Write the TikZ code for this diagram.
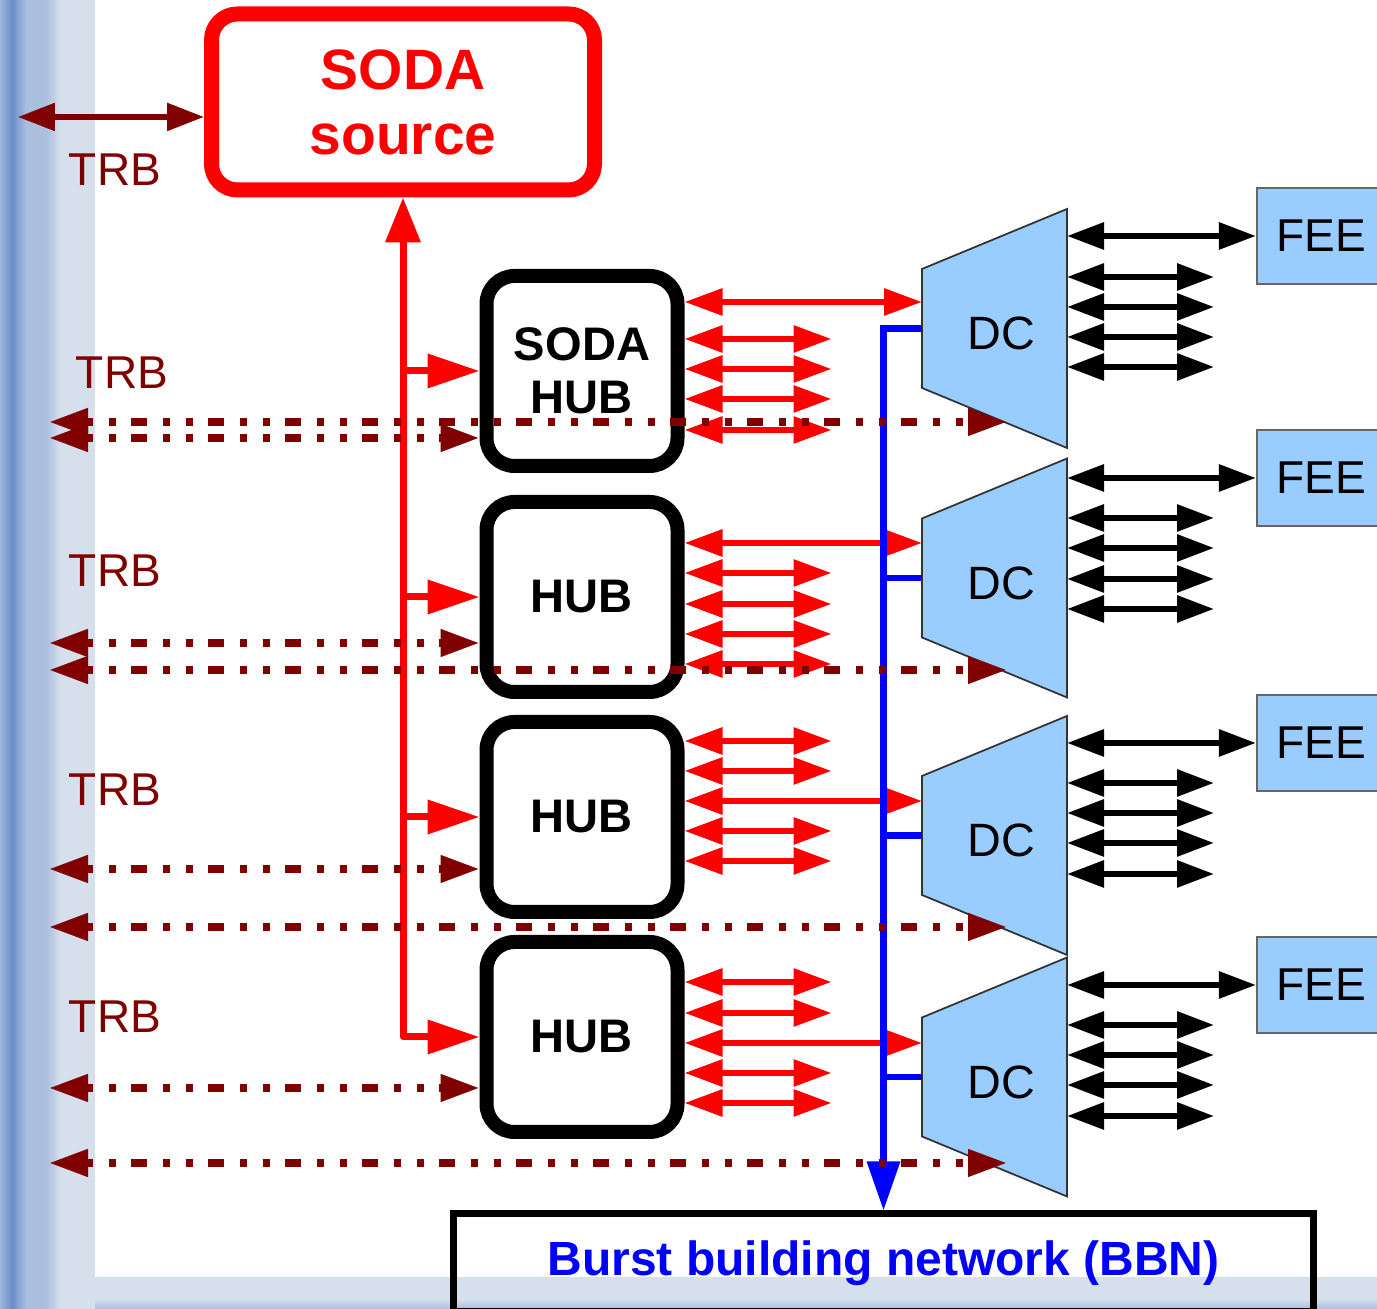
\documentclass[tikz,border=0pt]{standalone}
\usepackage{fontspec}
\setmainfont{Liberation Sans}
\usepackage{tikz}
\usetikzlibrary{positioning, arrows.meta, calc, backgrounds}
\usepackage{xcolor}
\definecolor{sodared}{HTML}{FF0000}
\definecolor{trbred}{HTML}{800000}
\definecolor{dcblue}{HTML}{99CCFF}
\definecolor{bandpale}{HTML}{D6DFEC}
\definecolor{bandmid}{HTML}{AABEDF}
\definecolor{banddark}{HTML}{6A8EC8}
\newcommand{\fsz}[2]{\fontsize{#1}{#2}\selectfont}

\begin{document}
\begin{tikzpicture}[
  hubbox/.style={draw, line width=0.14cm, rounded corners=0.28cm, minimum width=1.91cm, minimum height=1.90cm, align=center, font=\bfseries\fsz{13.4pt}{15.1pt}},
  dcbox/.style={minimum width=1.45cm, minimum height=2.39cm, inner sep=0pt, outer sep=0pt, text height=0.43cm, execute at begin node={\hspace*{0.14cm}}, font=\fsz{13.3pt}{15pt}},
  dcshape/.style={fill=dcblue, draw=black!80, line width=0.5pt},
  feebox/.style={draw=black!60, fill=dcblue, line width=0.6pt, minimum width=1.28cm, minimum height=0.96cm, font=\fsz{13.1pt}{15pt}},
  trblabel/.style={text=trbred, font=\fsz{13.1pt}{15pt}},
  trbarrow/.style={draw=trbred, line width=0.055cm, {Triangle[length=0.37cm,width=0.27cm]}-{Triangle[length=0.37cm,width=0.27cm]}},
  trbline/.style={draw=trbred, line width=0.075cm, dash pattern=on 0.07cm off 0.155cm on 0.07cm off 0.155cm on 0.16cm off 0.16cm, {Triangle[length=0.39cm,width=0.26cm]}-{Triangle[length=0.39cm,width=0.26cm]}},
  sodaline/.style={draw=sodared, line width=0.07cm, line join=round},
  sodapair/.style={draw=sodared, line width=0.06cm, {Triangle[length=0.38cm,width=0.26cm]}-{Triangle[length=0.38cm,width=0.26cm]}},
  feepair/.style={draw=black, line width=0.06cm, {Triangle[length=0.37cm,width=0.26cm]}-{Triangle[length=0.37cm,width=0.26cm]}},
  bus/.style={draw=blue, line width=0.065cm}
]
  \useasboundingbox (0,0) rectangle (13.77,13.09);
  \fill[bandpale] (0,0) rectangle (13.77,0.32);
  \shade[top color=bandpale, bottom color=bandmid] (0,0) rectangle (13.77,0.1);
  \fill[bandpale] (0,0) rectangle (0.95,13.09);
  \shade[left color=bandpale!50!banddark, right color=banddark] (0,0) rectangle (0.12,13.09);
  \shade[left color=banddark, right color=bandmid] (0.12,0) rectangle (0.26,13.09);
  \fill[bandmid] (0.26,0) rectangle (0.46,13.09);
  \shade[left color=bandmid, right color=bandpale] (0.46,0) rectangle (0.6,13.09);

  \node[draw=sodared, line width=0.15cm, rounded corners=0.26cm, minimum width=3.83cm, minimum height=1.76cm, align=center, text=sodared, font=\bfseries\fsz{16.2pt}{18.5pt}] (src) at (4.03,12.07) {SODA\\source};
  \node[hubbox] (hub1) at (5.82,9.38) {SODA\\HUB};
  \node[hubbox] (hub2) at (5.82,7.12) {HUB};
  \node[hubbox] (hub3) at (5.82,4.92) {HUB};
  \node[hubbox] (hub4) at (5.82,2.72) {HUB};

  \node[dcbox] (dc1) at (9.945,9.805) {DC};
  \node[dcbox] (dc2) at (9.945,7.31) {DC};
  \node[dcbox] (dc3) at (9.945,4.735) {DC};
  \node[dcbox] (dc4) at (9.945,2.32) {DC};
  \begin{scope}[on background layer]
    \foreach \d in {dc1,dc2,dc3,dc4}
      \filldraw[dcshape] (\d.north east) -- (\d.south east) -- ([yshift=0.6cm]\d.south west) -- ([yshift=-0.6cm]\d.north west) -- cycle;
  \end{scope}

  \node[feebox] (fee1) at (13.21,10.73) {FEE};
  \node[feebox] (fee2) at (13.21,8.31) {FEE};
  \node[feebox] (fee3) at (13.21,5.66) {FEE};
  \node[feebox] (fee4) at (13.21,3.24) {FEE};

  \node[draw, line width=0.07cm, minimum width=8.60cm, minimum height=0.98cm, text=blue, font=\bfseries\fsz{13.65pt}{16pt}] (bbn) at (8.835,0.46) {Burst building network (BBN)};

  \node[trblabel] (trb0) at (1.15,11.39) {TRB};
  \node[trblabel] (trb1) at (1.22,9.36) {TRB};
  \node[trblabel] (trb2) at (1.15,7.38) {TRB};
  \node[trblabel] (trb3) at (1.15,5.19) {TRB};
  \node[trblabel] (trb4) at (1.15,2.92) {TRB};

  \coordinate (trbtop) at (0.18,11.92);
  \draw[trbarrow] (trbtop) -- (trbtop -| src.west);

  \draw[sodaline, {Triangle[length=0.45cm,width=0.34cm]}-{Triangle[length=0.52cm,width=0.33cm]}] (src.south) |- (hub4.west);
  \foreach \h in {hub1,hub2,hub3}
    \draw[sodaline, -{Triangle[length=0.52cm,width=0.33cm]}] (src.south |- \h.west) -- (\h.west);

  \draw[sodapair] (hub1.east |- 0,10.07) -- (dc1.west |- 0,10.07);
  \foreach \y in {9.70,9.40,9.10,8.79}
    \draw[sodapair] (hub1.east |- 0,\y) -- ++(1.47,0);
  \draw[sodapair] (hub2.east |- 0,7.66) -- (dc2.west |- 0,7.66);
  \foreach \y in {7.36,7.05,6.75,6.45}
    \draw[sodapair] (hub2.east |- 0,\y) -- ++(1.47,0);
  \draw[sodapair] (hub3.east |- 0,5.08) -- (dc3.west |- 0,5.08);
  \foreach \y in {5.68,5.38,4.78,4.48}
    \draw[sodapair] (hub3.east |- 0,\y) -- ++(1.47,0);
  \draw[sodapair] (hub4.east |- 0,2.66) -- (dc4.west |- 0,2.66);
  \foreach \y in {3.27,2.96,2.36,2.06}
    \draw[sodapair] (hub4.east |- 0,\y) -- ++(1.47,0);

  \draw[bus, -{Triangle[length=0.49cm,width=0.32cm]}] (dc1.west) -| (bbn.north);
  \foreach \d in {dc2,dc3,dc4}
    \draw[bus] (\d.west) -- (\d.west -| bbn.north);

  \draw[feepair] (fee1.west -| dc1.east) -- (fee1.west);
  \foreach \y in {10.32,10.02,9.72,9.42}
    \draw[feepair] (dc1.east |- 0,\y) -- ++(1.47,0);
  \draw[feepair] (fee2.west -| dc2.east) -- (fee2.west);
  \foreach \y in {7.91,7.61,7.30,7.00}
    \draw[feepair] (dc2.east |- 0,\y) -- ++(1.47,0);
  \draw[feepair] (fee3.west -| dc3.east) -- (fee3.west);
  \foreach \y in {5.26,4.96,4.66,4.35}
    \draw[feepair] (dc3.east |- 0,\y) -- ++(1.47,0);
  \draw[feepair] (fee4.west -| dc4.east) -- (fee4.west);
  \foreach \y in {2.84,2.54,2.24,1.93}
    \draw[feepair] (dc4.east |- 0,\y) -- ++(1.47,0);

  \coordinate (lft) at (0.49,0);
  \coordinate (rgt) at (10.07,0);
  \draw[trbline] (lft |- 0,8.87) -- (rgt |- 0,8.87);
  \draw[trbline] (lft |- 0,8.71) -- (hub1.west |- 0,8.71);
  \draw[trbline] (lft |- 0,6.66) -- (hub2.west |- 0,6.66);
  \draw[trbline] (lft |- 0,6.39) -- (rgt |- 0,6.39);
  \draw[trbline] (lft |- 0,4.40) -- (hub3.west |- 0,4.40);
  \draw[trbline] (lft |- 0,3.82) -- (rgt |- 0,3.82);
  \draw[trbline] (lft |- 0,2.21) -- (hub4.west |- 0,2.21);
  \draw[trbline] (lft |- 0,1.46) -- (rgt |- 0,1.46);
\end{tikzpicture}
\end{document}
